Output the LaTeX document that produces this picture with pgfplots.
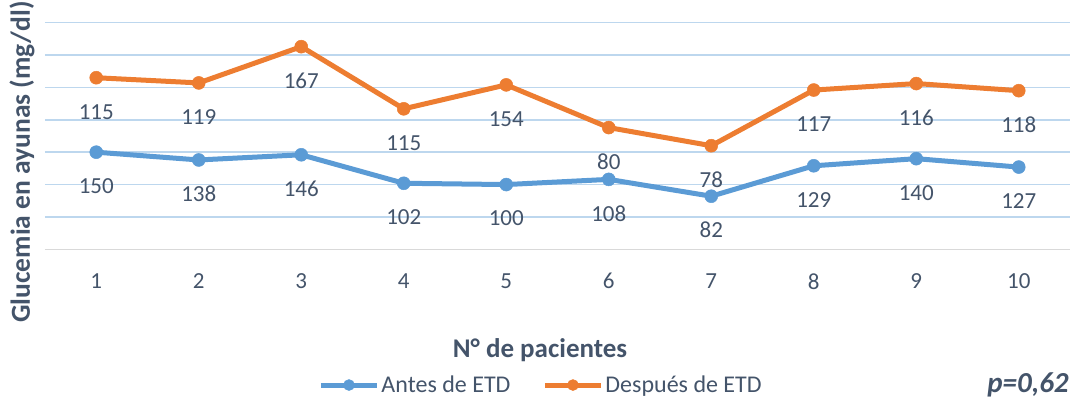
\documentclass[border=0pt]{standalone}
\usepackage{fontspec}
\setmainfont{Carlito}
\usepackage{pgfplots}
\pgfplotsset{compat=1.18}
\usepackage{pgfplotstable}

\definecolor{antes}{HTML}{5B9BD5}
\definecolor{despues}{HTML}{ED7D31}
\definecolor{txt}{HTML}{44546A}
\definecolor{gridblue}{HTML}{BDD7EE}
\definecolor{axgray}{HTML}{D9D9D9}

% glucemia en ayunas (mg/dl) por paciente; la serie "despues" va apilada
\pgfplotstableread{
x  antes despues
1  150   115
2  138   119
3  146   167
4  102   115
5  100   154
6  108   80
7  82    78
8  129   117
9  140   116
10 127   118
}\datos

\begin{document}
\begin{tikzpicture}
\path[use as bounding box] (0,0) rectangle (1076pt,-404pt);
\begin{axis}[
  at={(45pt,-249.3pt)}, anchor=south west,
  scale only axis, width=1025pt, height=226.6pt,
  xmin=0.5, xmax=10.5, ymin=0, ymax=350,
  xtick={1,...,10},
  ytick={50,100,...,350}, yticklabels={},
  extra y ticks={0}, extra y tick labels={},
  extra y tick style={major grid style={axgray, line width=1.5pt}},
  ymajorgrids, major grid style={gridblue, line width=1.5pt},
  axis line style={draw=none}, major tick length=0pt,
  /pgf/number format/assume math mode=true,
  tick label style={text=txt, font=\fontsize{23}{27}\selectfont},
  xticklabel style={anchor=center, yshift=-32pt},
  stack plots=y,
  clip=false,
  nodes near coords,
  point meta=explicit,
  nodes near coords style={text=txt, anchor=center, yshift=-34pt, font=\fontsize{23}{27}\selectfont},
  xlabel={N° de pacientes},
  xlabel style={at={(axis description cs:0.483,-0.444)}, anchor=center, text=txt, font=\bfseries\fontsize{27}{32}\selectfont},
  ylabel={Glucemia en ayunas (mg/dl)},
  ylabel style={at={(axis description cs:-0.0224,0.385)}, anchor=center, text=txt, font=\bfseries\fontsize{27.5}{32}\selectfont},
  legend columns=2,
  legend style={at={(axis description cs:0.484,-0.599)}, anchor=center, draw=none, fill=none,
    font=\fontsize{24}{28}\selectfont, text=txt, nodes={inner sep=2pt},
    /tikz/every even column/.append style={column sep=30pt}},
  legend image code/.code={\draw[mark repeat=2, mark phase=2, mark size=5.5pt] plot coordinates {(0pt,0pt) (28pt,0pt) (56pt,0pt)};},
]
\addplot[antes, line width=5pt, mark=*, mark size=6.5pt, mark options={solid, fill=antes, line width=0.5pt}]
  table[x=x, y=antes, meta=antes] {\datos};
\addlegendentry{Antes de ETD}
\addplot[despues, line width=5pt, mark=*, mark size=6.5pt, mark options={solid, fill=despues, line width=0.5pt}]
  table[x=x, y=despues, meta=despues] {\datos};
\addlegendentry{Después de ETD}
\end{axis}
\node[text=txt, font=\bfseries\itshape\fontsize{29}{34}\selectfont] at (1028pt,-385pt) {p=0,62};
\end{tikzpicture}
\end{document}
